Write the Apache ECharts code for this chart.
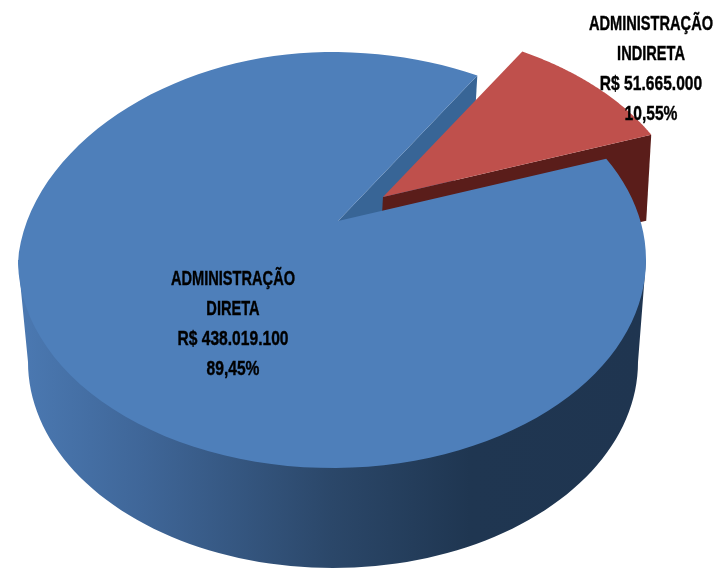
<!DOCTYPE html>
<html>
<head>
<meta charset="utf-8">
<style>
  html, body { margin: 0; padding: 0; background: #fff; }
  #chart { width: 726px; height: 569px; }
</style>
<script src="https://cdn.jsdelivr.net/npm/echarts@6/dist/echarts.min.js"></script>
</head>
<body>
<div id="chart"></div>
<script>
const categories = ['ADMINISTRAÇÃO\nDIRETA', 'ADMINISTRAÇÃO\nINDIRETA']
const values = [438019100, 51665000]

const total = values.reduce((a, b) => a + b, 0)

// top face ellipse, bottom ellipse of the wall
const top_ = { cx: 332, cy: 260, rx: 314, ry: 208 }
const bottom = { cx: 333, cy: 362, rx: 305, ry: 206 }
const apex = [338, 221]
const explode = [[0, 0], [45, -24]]
const depth = [-5, 86]
const labelPos = [[233, 279], [651, 24]]
const lineGap = 30
const faceColors = ['#4e7fba', '#bf504c']
const wallColors = ['#386596', '#5a1d1a']

// pie runs clockwise from here, degrees
const startAngle = 26.8
const warpCenter = 45.8
const warp = 0.126
const backLeftPinch = 0.06

const rad = (d) => (d * Math.PI) / 180

function sliceAngles(i) {
  const before = values.slice(0, i).reduce((a, b) => a + b, 0)
  return [
    startAngle - (before / total) * 360,
    startAngle - ((before + values[i]) / total) * 360,
  ]
}

// the picture is in perspective, back of the pie is a little squeezed
function rim(angle, off) {
  const a = rad(angle)
  const t = a - warp * Math.sin(a - rad(warpCenter))
  const c = Math.cos(t)
  const s = Math.sin(t)
  const pinch = c < 0 && s > 0 ? 1 - backLeftPinch * s : 1
  return [
    top_.cx + top_.rx * c * pinch + off[0],
    top_.cy - top_.ry * s + off[1],
  ]
}

function polygon(points, fill) {
  return {
    type: 'polygon',
    shape: { points },
    style: { fill, stroke: null },
    silent: true,
  }
}

function renderSide(params) {
  if (params.dataIndex !== 0) return { type: 'group', children: [] }
  const pts = [[top_.cx - top_.rx, top_.cy]]
  for (let d = 180; d <= 360; d += 2) {
    pts.push([
      bottom.cx + bottom.rx * Math.cos(rad(d)),
      bottom.cy - bottom.ry * Math.sin(rad(d)),
    ])
  }
  pts.push([top_.cx + top_.rx, top_.cy])
  return polygon(
    pts,
    new echarts.graphic.LinearGradient(0, 0, 1, 0, [
      { offset: 0, color: '#4b79b2' },
      { offset: 0.2, color: '#3f6698' },
      { offset: 0.5, color: '#2b4769' },
      { offset: 0.72, color: '#1f3651' },
      { offset: 1, color: '#1f3550' },
    ])
  )
}

function renderWall(params) {
  const i = params.dataIndex
  const off = explode[i]
  // only the cut face at the clockwise end of each slice looks into the gap
  const edge = rim(sliceAngles(i)[1], off)
  const a = [apex[0] + off[0], apex[1] + off[1]]
  return polygon(
    [a, edge, [edge[0] + depth[0], edge[1] + depth[1]], [a[0] + depth[0], a[1] + depth[1]]],
    wallColors[i]
  )
}

function renderFace(params) {
  const i = params.dataIndex
  const off = explode[i]
  const angles = sliceAngles(i)
  const pts = [[apex[0] + off[0], apex[1] + off[1]]]
  const steps = 120
  for (let s = 0; s <= steps; s++) {
    pts.push(rim(angles[0] + ((angles[1] - angles[0]) * s) / steps, off))
  }
  return polygon(pts, faceColors[i])
}

function renderLabel(params, api) {
  const i = params.dataIndex
  const v = api.value(0)
  const money = 'R$ ' + String(v).replace(/\B(?=(\d{3})+$)/g, '.')
  const pct = ((v / total) * 100).toFixed(2).replace('.', ',') + '%'
  const names = categories[i].split('\n')
  const lines = [...names, money, pct]
  return {
    type: 'group',
    silent: true,
    children: lines.map((text, n) => ({
      type: 'text',
      x: labelPos[i][0],
      y: labelPos[i][1] + n * lineGap,
      // no narrow bold font here, squeeze it. digits run wider in the original
      scaleX: n < names.length ? 0.73 : 0.78,
      silent: true,
      style: {
        text,
        fill: '#000',
        stroke: '#000',
        lineWidth: 0.4,
        font: 'bold 20px "Liberation Sans", sans-serif',
        align: 'center',
        verticalAlign: 'middle',
      },
    })),
  }
}

const layer = (renderItem) => ({
  type: 'custom',
  coordinateSystem: 'none',
  silent: true,
  data: values.map((v) => [v]),
  renderItem,
})

const chart = echarts.init(document.getElementById('chart'))
chart.setOption({
  animation: false,
  backgroundColor: '#fff',
  series: [
    layer(renderSide),
    layer(renderWall),
    layer(renderFace),
    layer(renderLabel),
  ],
})
</script>
</body>
</html>
